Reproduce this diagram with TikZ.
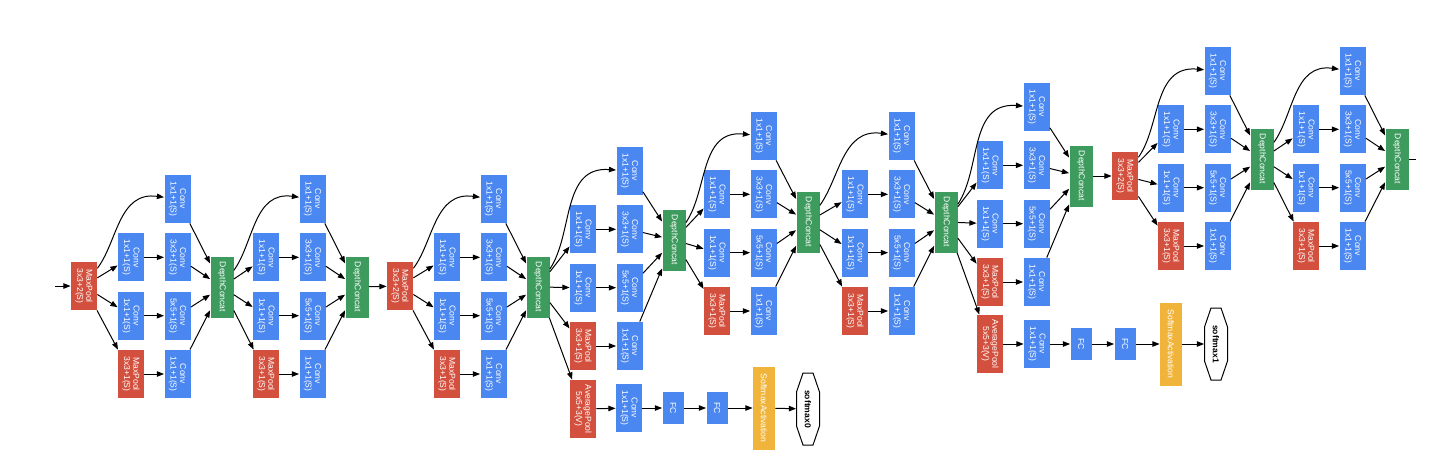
\documentclass[tikz,border=0pt]{standalone}
\usepackage{fontspec}
\usetikzlibrary{arrows.meta}
\newfontfamily\boxfont{Liberation Sans}
\definecolor{convblue}{HTML}{4A87F0}
\definecolor{poolred}{HTML}{D4503E}
\definecolor{concatgreen}{HTML}{3D9B5D}
\definecolor{softyellow}{HTML}{F1B43A}
\tikzset{
  blk/.style={rectangle, rotate=-90, text=white, align=center, inner sep=0pt,
    font=\boxfont\fontsize{4.3}{4.7}\selectfont},
  conv/.style={blk, fill=convblue, minimum width=24pt, minimum height=13pt},
  pool/.style={blk, fill=poolred, minimum width=24pt, minimum height=13pt},
  avgpool/.style={blk, fill=poolred, minimum width=29pt, minimum height=13pt},
  fcbox/.style={blk, fill=convblue, minimum width=16pt, minimum height=10.5pt},
  concat/.style={blk, fill=concatgreen, minimum width=30.5pt, minimum height=11.5pt},
  softact/.style={blk, fill=softyellow, minimum width=41.5pt, minimum height=11pt},
  smax/.style={rectangle, rotate=-90, text=black, inner sep=0pt,
    font=\boxfont\bfseries\fontsize{4.3}{4.7}\selectfont,
    minimum width=36pt, minimum height=11.5pt},
  octo/.style={draw=black, line width=0.5pt},
  arr/.style={draw=black, line width=0.5pt, -{Triangle[length=3.6pt,width=2.7pt]}},
  plain/.style={draw=black, line width=0.5pt},
  curv/.style={out=68, in=198}
}
% #1 prefix, #2 input node, #3 x of first column, #4 y of top row, #5 y of DepthConcat
\newcommand\incep[5]{%
  \node[conv] (#1b1) at (#3+46.5,-#4) {Conv\\1x1+1(S)};
  \node[conv] (#1a2) at (#3,-#4-58.3) {Conv\\1x1+1(S)};
  \node[conv] (#1b2) at (#3+46.5,-#4-58.3) {Conv\\3x3+1(S)};
  \node[conv] (#1a3) at (#3,-#4-116.7) {Conv\\1x1+1(S)};
  \node[conv] (#1b3) at (#3+46.5,-#4-116.7) {Conv\\5x5+1(S)};
  \node[pool] (#1a4) at (#3,-#4-175) {MaxPool\\3x3+1(S)};
  \node[conv] (#1b4) at (#3+46.5,-#4-175) {Conv\\1x1+1(S)};
  \node[concat] (#1d) at (#3+91,-#5) {DepthConcat};
  \draw[arr] (#2) to[curv] (#1b1);
  \draw[arr] (#2) -- (#1a2);
  \draw[arr] (#2) -- (#1a3);
  \draw[arr] (#2) -- (#1a4);
  \draw[arr] (#1a2) -- (#1b2);
  \draw[arr] (#1a3) -- (#1b3);
  \draw[arr] (#1a4) -- (#1b4);
  \draw[arr] (#1b1) -- (#1d);
  \draw[arr] (#1b2) -- (#1d);
  \draw[arr] (#1b3) -- (#1d);
  \draw[arr] (#1b4) -- (#1d);
}
% octagon around a softmax node
\newcommand\octagon[1]{%
  \draw[octo] ([shift={(-5,36)}]#1.center) -- ([shift={(5,36)}]#1.center)
    -- ([shift={(11.5,17)}]#1.center) -- ([shift={(11.5,-17)}]#1.center)
    -- ([shift={(5,-36)}]#1.center) -- ([shift={(-5,-36)}]#1.center)
    -- ([shift={(-11.5,-17)}]#1.center) -- ([shift={(-11.5,17)}]#1.center) -- cycle;
}
\begin{document}
\begin{tikzpicture}[x=0.5pt,y=0.5pt]
\useasboundingbox (0,0) rectangle (1434,-462);
\fill[white] (0,0) rectangle (1434,-462);

\coordinate (start) at (55,-286);
\node[pool] (mp1) at (84,-286) {MaxPool\\3x3+2(S)};
\draw[arr] (start) -- (mp1);

\incep{A}{mp1}{131}{199}{287}
\incep{B}{Ad}{266}{199}{287}

\node[pool] (mp2) at (400,-286) {MaxPool\\3x3+2(S)};
\draw[arr] (Bd) -- (mp2);

\incep{C}{mp2}{447}{199}{287}
\incep{D}{Cd}{583}{171}{240}

% auxiliary classifier 0
\node[avgpool] (ap0) at (583,-409) {AveragePool\\5x5+3(V)};
\node[conv] (ac0) at (629,-408) {Conv\\1x1+1(S)};
\node[fcbox] (fa0) at (673,-408) {FC};
\node[fcbox] (fb0) at (717,-408) {FC};
\node[softact] (sa0) at (764,-408) {SoftmaxActivation};
\node[smax] (s0) at (808,-409) {softmax0};
\octagon{s0}
\draw[arr] (Cd) -- (ap0);
\draw[arr] (ap0) -- (ac0);
\draw[arr] (ac0) -- (fa0);
\draw[arr] (fa0) -- (fb0);
\draw[arr] (fb0) -- (sa0);
\draw[arr] (sa0) -- (s0);

\incep{E}{Dd}{717}{136}{222}
\incep{F}{Ed}{855}{136}{222}
\incep{G}{Fd}{990}{107}{176}

% auxiliary classifier 1
\node[avgpool] (ap1) at (990,-344) {AveragePool\\5x5+3(V)};
\node[conv] (ac1) at (1037,-344) {Conv\\1x1+1(S)};
\node[fcbox] (fa1) at (1081,-344) {FC};
\node[fcbox] (fb1) at (1125,-344) {FC};
\node[softact] (sa1) at (1171,-344) {SoftmaxActivation};
\node[smax] (s1) at (1216,-344) {softmax1};
\octagon{s1}
\draw[arr] (Fd) -- (ap1);
\draw[arr] (ap1) -- (ac1);
\draw[arr] (ac1) -- (fa1);
\draw[arr] (fa1) -- (fb1);
\draw[arr] (fb1) -- (sa1);
\draw[arr] (sa1) -- (s1);

\node[pool] (mp3) at (1125,-176) {MaxPool\\3x3+2(S)};
\draw[arr] (Gd) -- (mp3);

\incep{H}{mp3}{1171}{71}{159}
\incep{I}{Hd}{1306}{71}{159}

\coordinate (finish) at (1416,-159);
\draw[plain] (Id) -- (finish);
\end{tikzpicture}
\end{document}
